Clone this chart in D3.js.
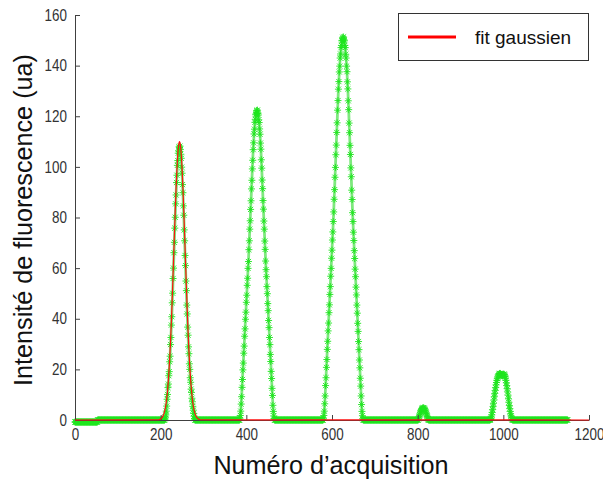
<!DOCTYPE html>
<html>
<head>
<meta charset="utf-8">
<script src="https://cdn.jsdelivr.net/npm/d3@7"></script>
<style>
  html, body { margin: 0; padding: 0; background: #fff; }
  svg { display: block; }
  .tick text { font-family: "Liberation Sans", Arial, sans-serif; font-size: 16px; fill: #333; }
</style>
</head>
<body>
<svg id="chart" width="603" height="481"></svg>
<script>
// ---- data ----
const xTickValues = [0, 200, 400, 600, 800, 1000, 1200];
const yTickValues = [0, 20, 40, 60, 80, 100, 120, 140, 160];
const xLabel = "Numéro d’acquisition";
const yLabel = "Intensité de fluorescence (ua)";
const legendLabel = "fit gaussien";

// measured signal: baseline level ranges [start, end, level]
const baselineRanges = [[0, 52, -0.8], [53, 1150, 0]];

// measured peaks: first acquisition index and consecutive values
const peak1Start = 210;
const peak1Values = [0.5, 1.2, 2.0, 3.5, 5.5, 8.2, 10.1, 12.8, 14.2, 17.5, 19.1, 23.0, 25.2, 29.8, 32.6, 37.5, 40.8, 46.3, 50.1, 55.9,
  60.0, 66.1, 70.2, 75.8, 80.1, 85.4, 88.9, 93.8, 96.7, 100.6, 102.5, 105.4, 106.3, 107.9, 107.6, 108.2, 106.9, 105.0, 103.4, 99.9,
  97.5, 93.0, 89.8, 84.6, 80.9, 75.1, 70.8, 65.0, 61.0, 54.9, 51.1, 45.4, 41.9, 36.7, 33.5, 28.9, 26.2, 22.2, 20.0, 16.7,
  14.9, 12.2, 10.9, 8.6, 7.2, 5.4, 3.9, 2.6, 1.5, 0.6];

const peak2Start = 385;
const peak2Values = [0.7, 1.8, 3.5, 6.3, 9.2, 12.9, 16.0, 19.8, 22.5, 26.4, 29.2, 33.1, 36.0, 39.8, 42.6, 46.5, 49.3, 53.2, 56.0, 59.9,
  62.6, 67.3, 70.8, 75.4, 78.7, 83.2, 86.6, 91.3, 94.7, 99.2, 102.6, 106.8, 109.5, 113.0, 114.9, 117.6, 118.8, 120.6, 121.0, 122.3,
  121.7, 122.4, 121.1, 120.5, 118.6, 117.5, 115.0, 112.9, 109.4, 107.0, 102.8, 99.5, 94.8, 91.4, 86.7, 83.3, 78.6, 75.4, 70.7, 67.4,
  62.8, 59.4, 56.6, 52.7, 49.9, 46.0, 43.2, 39.3, 36.5, 32.6, 29.8, 25.9, 23.1, 19.2, 16.4, 12.5, 9.7, 5.8, 3.4, 1.6,
  0.6];

const peak3Start = 580;
const peak3Values = [0.7, 1.8, 3.5, 6.4, 9.5, 13.6, 16.7, 20.8, 23.9, 27.9, 31.1, 35.2, 38.3, 42.4, 45.5, 49.6, 52.7, 56.8, 59.9, 63.9,
  67.1, 71.1, 74.3, 78.4, 82.2, 87.2, 91.0, 95.9, 99.8, 104.8, 108.6, 113.6, 117.4, 122.4, 126.2, 130.7, 133.7, 137.5, 139.8, 143.0,
  144.6, 147.1, 148.0, 149.8, 150.0, 151.2, 150.6, 151.3, 150.2, 149.8, 148.0, 147.1, 144.5, 143.0, 139.8, 137.6, 133.6, 130.8, 126.1, 122.6,
  117.3, 113.5, 108.5, 104.9, 99.6, 96.1, 90.8, 87.1, 81.9, 78.4, 74.2, 70.9, 66.9, 63.8, 59.6, 56.6, 52.5, 49.4, 45.4, 42.2,
  38.2, 35.0, 31.0, 27.8, 23.7, 20.6, 16.5, 13.4, 9.5, 6.1, 3.4, 1.7, 0.5];

const peak4Start = 802;
const peak4Values = [0.4, 0.9, 1.5, 2.1, 2.7, 3.2, 3.7, 4.1, 4.4, 4.6, 4.7, 4.8, 4.7, 4.6, 4.4, 4.0, 3.6, 3.1, 2.6, 2.0,
  1.4, 0.9, 0.4, 0.1];

const peak5Start = 970;
const peak5Values = [0.2, 0.6, 1.2, 2.0, 3.0, 4.1, 5.3, 6.6, 7.9, 9.2, 10.5, 11.7, 12.8, 13.9, 14.8, 15.6, 16.3, 16.9, 17.4, 17.8,
  18.1, 18.3, 18.4, 18.3, 18.1, 17.8, 17.6, 17.5, 17.6, 17.8, 18.0, 18.1, 18.0, 17.7, 17.2, 16.5, 15.7, 14.7, 13.6, 12.4,
  11.1, 9.8, 8.4, 7.0, 5.7, 4.5, 3.4, 2.4, 1.6, 0.9, 0.4, 0.1];

const fitX = [0, 196, 198, 200, 202, 204, 206, 208, 210, 212, 214, 216, 218, 220, 222, 224, 226, 228, 230, 232, 234, 236, 238, 240, 242,
  244, 246, 248, 250, 252, 254, 256, 258, 260, 262, 264, 266, 268, 270, 272, 274, 276, 278, 280, 282, 284, 286, 288, 290, 292, 1200];
const fitY = [0, 0.1, 0.25, 0.4, 0.7, 1.1, 1.75, 2.7, 4.0, 5.8, 8.3, 11.6, 15.8, 21.0, 27.4, 34.9, 43.4, 52.8, 62.7, 72.8, 82.6, 91.6, 99.2, 105.1, 108.7,
  110, 108.7, 105.1, 99.2, 91.6, 82.6, 72.8, 62.7, 52.8, 43.4, 34.9, 27.4, 21.0, 15.8, 11.6, 8.3, 5.8, 4.0, 2.7, 1.75, 1.1, 0.7, 0.4, 0.25, 0.1, 0];

// ---- build measured series ----
const peaks = [[peak1Start, peak1Values], [peak2Start, peak2Values], [peak3Start, peak3Values], [peak4Start, peak4Values], [peak5Start, peak5Values]];
const peakLookup = new Map();
peaks.forEach(([s, vals]) => vals.forEach((v, i) => peakLookup.set(s + i, v)));
const signal = [];
baselineRanges.forEach(([a, b, lvl]) => {
  for (let x = a; x <= b; x++) signal.push({x, y: peakLookup.has(x) ? peakLookup.get(x) : lvl});
});
const fit = fitX.map((x, i) => ({x, y: fitY[i]}));

// ---- drawing ----
const svg = d3.select("#chart");
const x = d3.scaleLinear().domain([0, 1200]).range([75, 589]);
const y = d3.scaleLinear().domain([0, 160]).range([420, 15]);

const line = d3.line().x(d => x(d.x)).y(d => y(d.y));

// measured data: light green line with asterisk markers
svg.append("path").datum(signal)
  .attr("d", line).attr("fill", "none")
  .attr("stroke", "#7fe87f").attr("stroke-width", 2.8).attr("stroke-linejoin", "round");

const star = "M-3.5,0H3.5M0,-3.5V3.5M-2.6,-2.6L2.6,2.6M-2.6,2.6L2.6,-2.6";
svg.append("g").selectAll("path").data(signal).join("path")
  .attr("transform", d => `translate(${x(d.x)},${y(d.y)})`)
  .attr("d", star).attr("fill", "none")
  .attr("stroke", "#1ee51e").attr("stroke-width", 0.9);

// axes
const axisColor = "#404040";
const condense = 0.84;
const gx = svg.append("g").attr("transform", "translate(0,420)")
  .call(d3.axisBottom(x).tickValues(xTickValues).tickFormat(d3.format("d"))
    .tickSizeInner(-5).tickSizeOuter(0).tickPadding(9));
const gy = svg.append("g").attr("transform", "translate(75,0)")
  .call(d3.axisLeft(y).tickValues(yTickValues).tickFormat(d3.format("d"))
    .tickSizeInner(-5).tickSizeOuter(0).tickPadding(9));
[gx, gy].forEach(g => {
  g.select(".domain").attr("stroke", axisColor);
  g.selectAll(".tick line").attr("stroke", axisColor);
});
gx.selectAll(".tick text").attr("transform", `scale(${condense},1)`);
gy.selectAll(".tick text").attr("x", -8 / condense).attr("transform", `scale(${condense},1)`);

// gaussian fit on top
svg.append("path").datum(fit)
  .attr("d", line.curve(d3.curveMonotoneX)).attr("fill", "none")
  .attr("stroke", "#ff1010").attr("stroke-width", 1.2);

// axis titles
svg.append("text")
  .attr("x", 331).attr("y", 474).attr("text-anchor", "middle")
  .attr("font-family", "'Liberation Sans', Arial, sans-serif").attr("font-size", 25.2).attr("fill", "#111")
  .text(xLabel);
svg.append("text")
  .attr("transform", "translate(32,220) rotate(-90)").attr("text-anchor", "middle")
  .attr("font-family", "'Liberation Sans', Arial, sans-serif").attr("font-size", 25.2).attr("fill", "#111")
  .text(yLabel);

// legend
const lg = svg.append("g");
lg.append("rect").attr("x", 398.5).attr("y", 13.5).attr("width", 190).attr("height", 47)
  .attr("fill", "#fff").attr("stroke", "#333").attr("stroke-width", 1);
lg.append("line").attr("x1", 408).attr("x2", 456).attr("y1", 37).attr("y2", 37)
  .attr("stroke", "#ff0000").attr("stroke-width", 3);
lg.append("text").attr("x", 475).attr("y", 43.5)
  .attr("font-family", "'Liberation Sans', Arial, sans-serif").attr("font-size", 19).attr("fill", "#111")
  .text(legendLabel);
</script>
</body>
</html>
